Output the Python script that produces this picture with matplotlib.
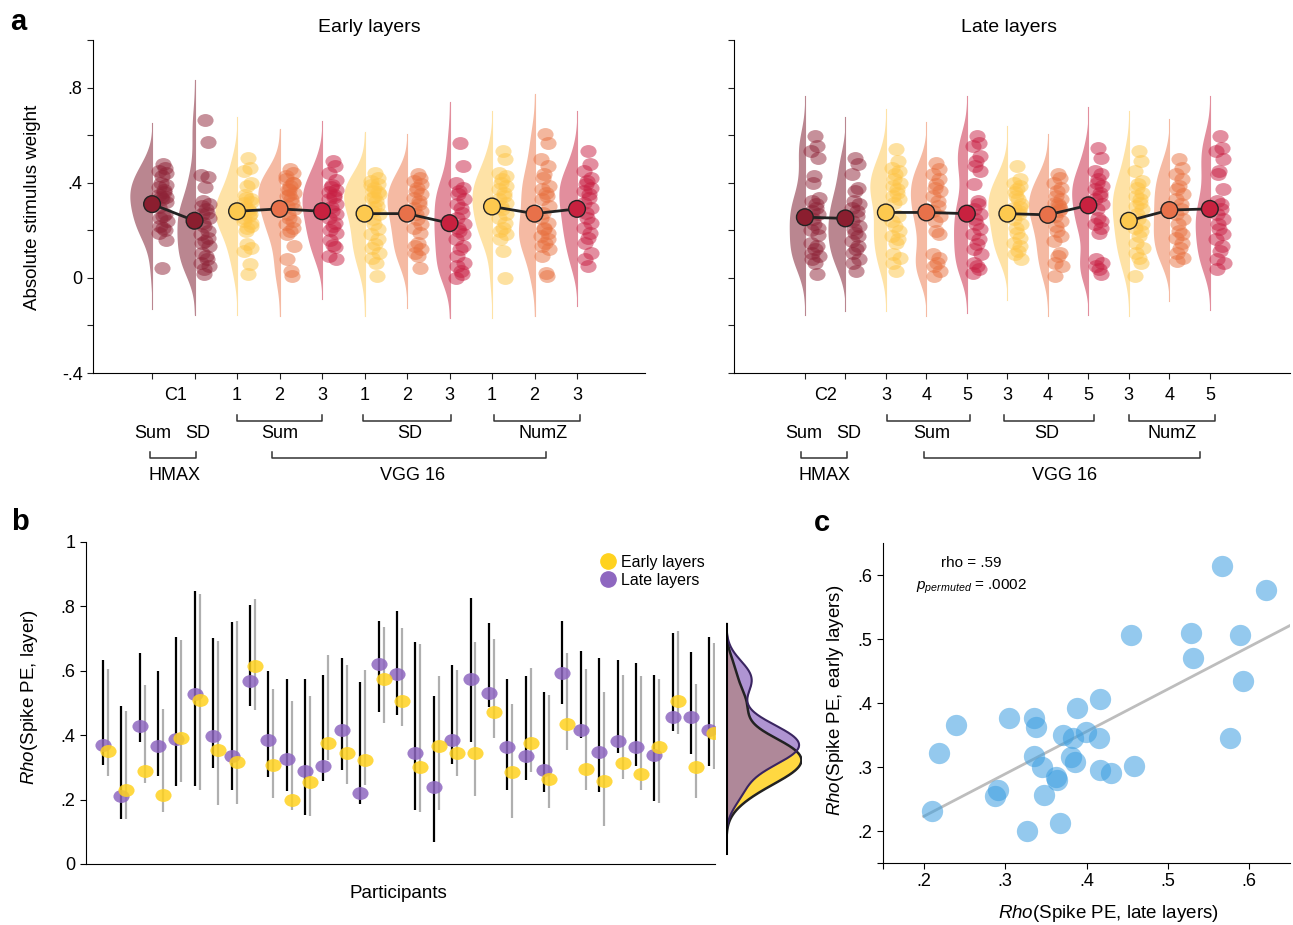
import numpy as np
import matplotlib
matplotlib.use('Agg')
import matplotlib.pyplot as plt
from matplotlib.path import Path
from matplotlib.lines import Line2D

plt.rcParams['font.family'] = ['Liberation Sans', 'DejaVu Sans']
plt.rcParams['mathtext.fontset'] = 'custom'
plt.rcParams['mathtext.rm'] = 'Liberation Sans'
plt.rcParams['mathtext.it'] = 'Liberation Sans:italic'

# ---------------------------------------------------------------------------
# Panel a: per-participant absolute stimulus weights
# order: HMAX Sum, HMAX SD, Sum 1-3, SD 1-3, NumZ 1-3
# ---------------------------------------------------------------------------
early_hmax_sum = [.48, .46, .45, .44, .43, .40, .39, .38, .37, .36, .35, .34, .34,
                  .33, .32, .30, .27, .26, .25, .24, .22, .21, .20, .19, .16, .04]
early_hmax_sd = [.663, .571, .431, .425, .383, .323, .309, .302, .288, .274, .267,
                 .253, .232, .218, .197, .183, .169, .155, .148, .134, .106, .092,
                 .078, .064, .050, .036, .015]
early_sum1 = [.505, .463, .449, .400, .386, .337, .330, .316, .281, .260, .239, .218,
              .197, .141, .127, .113, .057, .015, .35, .32, .30, .29, .27, .25, .23, .21]
early_sum2 = [.456, .442, .414, .400, .386, .372, .358, .344, .330, .316, .302, .288,
              .267, .253, .239, .225, .211, .197, .183, .134, .078, .029, .008,
              .43, .40, .37, .35]
early_sum3 = [.49, .47, .44, .41, .39, .38, .37, .36, .35, .34, .33, .31, .30, .28,
              .27, .25, .23, .22, .20, .19, .16, .14, .13, .09, .08]
early_sd1 = [.442, .421, .407, .393, .379, .365, .351, .337, .323, .302, .281, .267,
             .246, .225, .204, .183, .162, .141, .127, .106, .085, .064, .008,
             .39, .36, .34, .30]
early_sd2 = [.435, .421, .407, .393, .379, .365, .351, .337, .323, .309, .295, .281,
             .267, .246, .225, .211, .190, .148, .134, .120, .106, .092, .043]
early_sd3 = [.568, .470, .400, .379, .365, .351, .330, .309, .295, .274, .253, .225,
             .211, .197, .183, .162, .134, .120, .092, .064, .050, .029, .015, .001]
early_numz1 = [.533, .498, .442, .428, .414, .400, .386, .372, .358, .344, .330, .316,
               .302, .288, .267, .253, .232, .211, .197, .183, .162, .113, .001]
early_numz2 = [.603, .568, .498, .470, .435, .421, .386, .372, .358, .344, .330, .302,
               .274, .204, .190, .176, .162, .148, .134, .120, .092, .022, .008,
               .25, .23, .21]
early_numz3 = [.533, .477, .449, .421, .407, .393, .379, .365, .351, .337, .316, .295,
               .274, .253, .232, .211, .190, .169, .148, .106, .078, .050]

late_hmax_sum = [.596, .554, .533, .505, .428, .400, .337, .323, .309, .295, .281,
                 .267, .246, .225, .211, .148, .134, .120, .106, .092, .078, .064,
                 .015, .20, .18]
late_hmax_sd = [.505, .477, .435, .379, .365, .323, .309, .295, .281, .260, .239,
                .218, .204, .190, .176, .155, .134, .120, .106, .078, .064, .029]
late_sum3 = [.540, .491, .463, .449, .435, .414, .400, .386, .372, .358, .344, .330,
             .316, .218, .197, .176, .162, .148, .099, .085, .064, .029, .26, .24]
late_sum4 = [.484, .456, .435, .414, .393, .379, .365, .344, .323, .302, .281, .260,
             .239, .197, .183, .099, .085, .064, .050, .029, .008]
late_sum5 = [.596, .568, .554, .512, .491, .470, .449, .393, .323, .309, .288, .267,
             .246, .225, .204, .183, .162, .141, .120, .099, .064, .050, .036, .022]
late_sd3 = [.470, .414, .400, .386, .372, .344, .309, .295, .281, .267, .246, .225,
            .211, .190, .169, .148, .134, .113, .099, .078, .36, .33, .30]
late_sd4 = [.435, .421, .400, .379, .365, .344, .330, .316, .302, .281, .260, .239,
            .218, .197, .176, .155, .106, .092, .064, .050, .008, .31, .29]
late_sd5 = [.547, .505, .449, .435, .414, .400, .386, .372, .358, .344, .330, .309,
            .288, .253, .239, .225, .211, .190, .078, .064, .050, .036, .015]
late_numz3 = [.533, .491, .449, .407, .393, .379, .358, .344, .330, .316, .302, .288,
              .267, .246, .225, .211, .197, .176, .148, .127, .106, .085, .064, .008]
late_numz4 = [.498, .463, .435, .414, .386, .372, .351, .330, .309, .288, .267, .246,
              .225, .197, .183, .169, .148, .127, .106, .085, .071]
late_numz5 = [.596, .547, .533, .498, .449, .435, .372, .323, .309, .288, .267, .246,
              .225, .204, .183, .162, .134, .113, .078, .064, .036]

early_means = [.31, .24, .28, .29, .28, .27, .27, .23, .30, .27, .29]
late_means = [.255, .25, .275, .275, .27, .27, .265, .305, .24, .285, .29]

early_layers = ['1', '2', '3', '1', '2', '3', '1', '2', '3']
late_layers = ['3', '4', '5', '3', '4', '5', '3', '4', '5']

# ---------------------------------------------------------------------------
# Panel b/c: per-participant rho with 95% intervals
# ---------------------------------------------------------------------------
late = [.371, .210, .430, .367, .388, .528, .399, .336, .567, .386, .327, .288,
        .305, .415, .219, .621, .589, .345, .240, .384, .576, .531, .362, .336,
        .291, .592, .417, .348, .381, .364, .338, .455, .458, .417]
late_lo = [.308, .141, .380, .274, .241, .241, .297, .231, .490, .269, .226, .152,
           .257, .293, .186, .471, .464, .167, .068, .312, .378, .487, .231, .260,
           .223, .496, .390, .223, .345, .303, .195, .412, .342, .303]
late_hi = [.635, .492, .656, .600, .704, .847, .701, .752, .805, .600, .576, .576,
           .588, .641, .566, .756, .787, .689, .523, .617, .826, .748, .576, .585,
           .534, .756, .663, .639, .635, .624, .588, .717, .658, .706]
early = [.350, .231, .290, .213, .392, .510, .355, .317, .614, .308, .200, .254,
         .376, .345, .322, .576, .506, .300, .365, .345, .345, .471, .285, .376,
         .264, .435, .295, .257, .315, .280, .362, .507, .302, .407]
early_lo = [.274, .141, .252, .161, .256, .231, .184, .187, .477, .204, .167, .148,
            .323, .249, .246, .438, .428, .163, .169, .272, .210, .390, .143, .285,
            .174, .353, .231, .117, .264, .231, .189, .404, .205, .295]
early_hi = [.607, .474, .555, .480, .697, .840, .694, .756, .824, .545, .505, .523,
            .648, .617, .604, .735, .732, .684, .585, .604, .689, .699, .498, .609,
            .526, .655, .607, .534, .588, .583, .576, .725, .560, .686]

# ---------------------------------------------------------------------------
# Styling
# ---------------------------------------------------------------------------
KINDS = ['hmax', 'hmax', 'l1', 'l2', 'l3', 'l1', 'l2', 'l3', 'l1', 'l2', 'l3']
GROUPS = [[0, 1], [2, 3, 4], [5, 6, 7], [8, 9, 10]]
VIOLIN_COL = {'hmax': '#BA8690', 'l1': '#FEE2A6', 'l2': '#F5BAA3', 'l3': '#E28E9D'}
DOT_COL = {'hmax': '#8E2236', 'l1': '#FDC445', 'l2': '#E8703F', 'l3': '#C81E42'}
MEAN_COL = {'hmax': '#8B1E2F', 'l1': '#FDC94F', 'l2': '#E8714A', 'l3': '#C8213F'}
PURPLE = '#8E67C0'
YELLOW = '#FFD21F'
BLUE = '#3C9EE0'

W, H = 1293, 925

_circ = Path.unit_circle()
ELLIPSE = Path(_circ.vertices * np.array([1.25, 1.0]), _circ.codes)


def kde(vals, grid, bw):
    d = (grid[:, None] - np.asarray(vals)[None, :]) / bw
    return np.exp(-0.5 * d ** 2).sum(1) / (len(vals) * bw * np.sqrt(2 * np.pi))


def yfrac(px, bottom=373, height=333):
    return (bottom - px) / height


def raincloud(ax, dists, means, xlim, labels, rows):
    pos = np.arange(1, 12)
    for i, vals in enumerate(dists):
        v = np.asarray(vals)
        kind = KINDS[i]
        grid = np.linspace(v.min() - 0.17, v.max() + 0.17, 300)
        dens = kde(v, grid, 0.07)
        ax.fill_betweenx(grid, pos[i] - 0.17 * dens, pos[i],
                         color=VIOLIN_COL[kind], lw=0, zorder=1)
        ax.plot([pos[i], pos[i]], [grid[0], grid[-1]], color=VIOLIN_COL[kind],
                lw=0.8, zorder=1)
        jit = 0.25 + 0.09 * np.sin(np.arange(len(v)) * 2.4)
        ax.scatter(pos[i] + jit, v, s=135, marker=ELLIPSE, color=DOT_COL[kind],
                   alpha=0.5, lw=0, zorder=2)
    means = np.asarray(means)
    for g in GROUPS:
        ax.plot(pos[g], means[g], color='#222222', lw=2, zorder=3)
    ax.scatter(pos, means, s=145, c=[MEAN_COL[k] for k in KINDS],
               edgecolors='#222222', linewidths=1, zorder=4)

    ax.set_xlim(*xlim)
    ax.set_ylim(-0.4, 1.0)
    ax.set_xticks(pos)
    ax.set_xticklabels([])
    ax.set_yticks(np.arange(-0.4, 1.01, 0.2))
    for s in ['top', 'right']:
        ax.spines[s].set_visible(False)
    ax.tick_params(direction='out', length=4, labelsize=13, color='#222222')

    tr = ax.get_xaxis_transform()
    txt = dict(transform=tr, ha='center', va='center', fontsize=13, clip_on=False)
    ax.text(rows['c'], yfrac(396), labels[0], **txt)
    for p, lab in zip(pos[2:], labels[1:]):
        ax.text(p, yfrac(396), lab, **txt)
    for x0, x1 in rows['br1']:
        ax.plot([x0, x0, x1, x1], [yfrac(415), yfrac(421), yfrac(421), yfrac(415)],
                transform=tr, color='#333333', lw=1.1, clip_on=False)
    for x, lab in rows['row2']:
        ax.text(x, yfrac(433), lab, **txt)
    for x0, x1 in rows['br2']:
        ax.plot([x0, x0, x1, x1], [yfrac(452), yfrac(458), yfrac(458), yfrac(452)],
                transform=tr, color='#333333', lw=1.1, clip_on=False)
    for x, lab in rows['row3']:
        ax.text(x, yfrac(476), lab, **txt)


fig = plt.figure(figsize=(W / 100, H / 100), dpi=100)

# ---------------------------------------------------------------------------
# Panel a
# ---------------------------------------------------------------------------
ax_a1 = fig.add_axes([93 / W, 1 - 373 / H, 552 / W, 333 / H])
ax_a2 = fig.add_axes([734 / W, 1 - 373 / H, 556 / W, 333 / H])

early_dists = [early_hmax_sum, early_hmax_sd, early_sum1, early_sum2, early_sum3,
               early_sd1, early_sd2, early_sd3, early_numz1, early_numz2, early_numz3]
late_dists = [late_hmax_sum, late_hmax_sd, late_sum3, late_sum4, late_sum5,
              late_sd3, late_sd4, late_sd5, late_numz3, late_numz4, late_numz5]

raincloud(ax_a1, early_dists, early_means, (-0.39, 12.6), ['C1'] + early_layers,
          {'c': 1.56,
           'br1': [(3.0, 5.0), (5.96, 8.04), (9.05, 11.07)],
           'row2': [(1.02, 'Sum'), (2.08, 'SD'), (4.01, 'Sum'), (7.07, 'SD'), (10.2, 'NumZ')],
           'br2': [(0.95, 2.04), (3.82, 10.27)],
           'row3': [(1.52, 'HMAX'), (7.14, 'VGG 16')]})
raincloud(ax_a2, late_dists, late_means, (-0.75, 12.98), ['C2'] + late_layers,
          {'c': 1.52,
           'br1': [(3.02, 5.07), (5.91, 8.14), (9.0, 11.12)],
           'row2': [(0.98, 'Sum'), (2.09, 'SD'), (4.12, 'Sum'), (6.98, 'SD'), (10.06, 'NumZ')],
           'br2': [(0.9, 2.04), (3.95, 10.75)],
           'row3': [(1.49, 'HMAX'), (7.42, 'VGG 16')]})

ax_a1.set_yticklabels(['-.4', '', '0', '', '.4', '', '.8', ''])
ax_a2.set_yticklabels([])

fig.text(369 / W, 1 - 28 / H, 'Early layers', ha='center', va='center', fontsize=14)
fig.text(1009 / W, 1 - 28 / H, 'Late layers', ha='center', va='center', fontsize=14)
fig.text(33 / W, 1 - 207 / H, 'Absolute stimulus weight', rotation=90,
         ha='center', va='center', fontsize=13.5)

# ---------------------------------------------------------------------------
# Panel b
# ---------------------------------------------------------------------------
ax_b = fig.add_axes([86 / W, 1 - 864 / H, 629 / W, 322 / H])
xp = np.arange(1, len(late) + 1)
xe = xp + 0.27
ax_b.vlines(xp, late_lo, late_hi, color='black', lw=1.6, zorder=1)
ax_b.vlines(xe, early_lo, early_hi, color='#AFAFAF', lw=1.6, zorder=1)
ax_b.scatter(xp, late, s=135, marker=ELLIPSE, color=PURPLE, alpha=0.85, lw=0, zorder=2)
ax_b.scatter(xe, early, s=135, marker=ELLIPSE, color=YELLOW, alpha=0.85, lw=0, zorder=3)
ax_b.set_xlim(0.08, 34.3)
ax_b.set_ylim(0, 1)
ax_b.set_xticks([])
ax_b.set_yticks(np.arange(0, 1.01, 0.2))
ax_b.set_yticklabels(['0', '.2', '.4', '.6', '.8', '1'])
ax_b.tick_params(direction='out', length=4, labelsize=13)
for s in ['top', 'right']:
    ax_b.spines[s].set_visible(False)
handles = [Line2D([], [], marker='o', ls='', color=YELLOW, markersize=11, label='Early layers'),
           Line2D([], [], marker='o', ls='', color=PURPLE, markersize=11, label='Late layers')]
ax_b.legend(handles=handles, loc='upper left', bbox_to_anchor=(0.805, 0.98),
            frameon=False, fontsize=11.5, handletextpad=0.2, labelspacing=0.2,
            handlelength=1.2, borderaxespad=0)

fig.text(30 / W, 1 - 697 / H, r'$\mathit{Rho}$(Spike PE, layer)', rotation=90,
         ha='center', va='center', fontsize=13.5)
fig.text(398 / W, 1 - 893 / H, 'Participants', ha='center', va='center', fontsize=13.5)

# marginal densities
ax_bm = fig.add_axes([726 / W, 1 - 864 / H, 76 / W, 322 / H])
grid = np.linspace(0.034, 0.745, 400)
d_early = kde(early, grid, 0.045)
d_late = kde(late, grid, 0.045)
ax_bm.fill_betweenx(grid, 0, d_early, color=YELLOW, alpha=0.85, lw=0)
ax_bm.plot(d_early, grid, color='#222222', lw=1.8)
ax_bm.fill_betweenx(grid, 0, d_late, color=PURPLE, alpha=0.7, lw=0)
ax_bm.plot(d_late, grid, color='#3A2560', lw=1.5)
ax_bm.plot([0, 0], [grid[0], grid[-1]], color='black', lw=2.2)
ax_bm.set_xlim(-0.02, d_late.max() * 1.04)
ax_bm.set_ylim(0, 1)
ax_bm.axis('off')

# ---------------------------------------------------------------------------
# Panel c
# ---------------------------------------------------------------------------
ax_c = fig.add_axes([883 / W, 1 - 863 / H, 407 / W, 320 / H])
ax_c.scatter(late, early, s=235, color=BLUE, alpha=0.55, lw=0, zorder=2)
slope, icpt = np.polyfit(late, early, 1)
xl = np.array([0.2, 0.65])
ax_c.plot(xl, slope * xl + icpt, color='#BDBDBD', lw=2, zorder=1)
ax_c.set_xlim(0.15, 0.65)
ax_c.set_ylim(0.15, 0.65)
ax_c.set_xticks([0.15, 0.2, 0.3, 0.4, 0.5, 0.6])
ax_c.set_xticklabels(['', '.2', '.3', '.4', '.5', '.6'])
ax_c.set_yticks([0.15, 0.2, 0.3, 0.4, 0.5, 0.6])
ax_c.set_yticklabels(['', '.2', '.3', '.4', '.5', '.6'])
ax_c.tick_params(direction='out', length=4, labelsize=13)
for s in ['top', 'right']:
    ax_c.spines[s].set_visible(False)
ax_c.text(0.259, 0.618, 'rho = .59', ha='center', va='center', fontsize=11)
ax_c.text(0.259, 0.581, r'$p_{permuted}$ = .0002', ha='center', va='center', fontsize=11)
fig.text(1108 / W, 1 - 913 / H, r'$\mathit{Rho}$(Spike PE, late layers)',
         ha='center', va='center', fontsize=13.5)
fig.text(836 / W, 1 - 700 / H, r'$\mathit{Rho}$(Spike PE, early layers)', rotation=90,
         ha='center', va='center', fontsize=13.5)

# panel letters
for lab, x, y in [('a', 18, 22), ('b', 20, 522), ('c', 822, 523)]:
    fig.text(x / W, 1 - y / H, lab, ha='center', va='center', fontsize=21,
             fontweight='bold')

fig.savefig('out.png', dpi=100)
